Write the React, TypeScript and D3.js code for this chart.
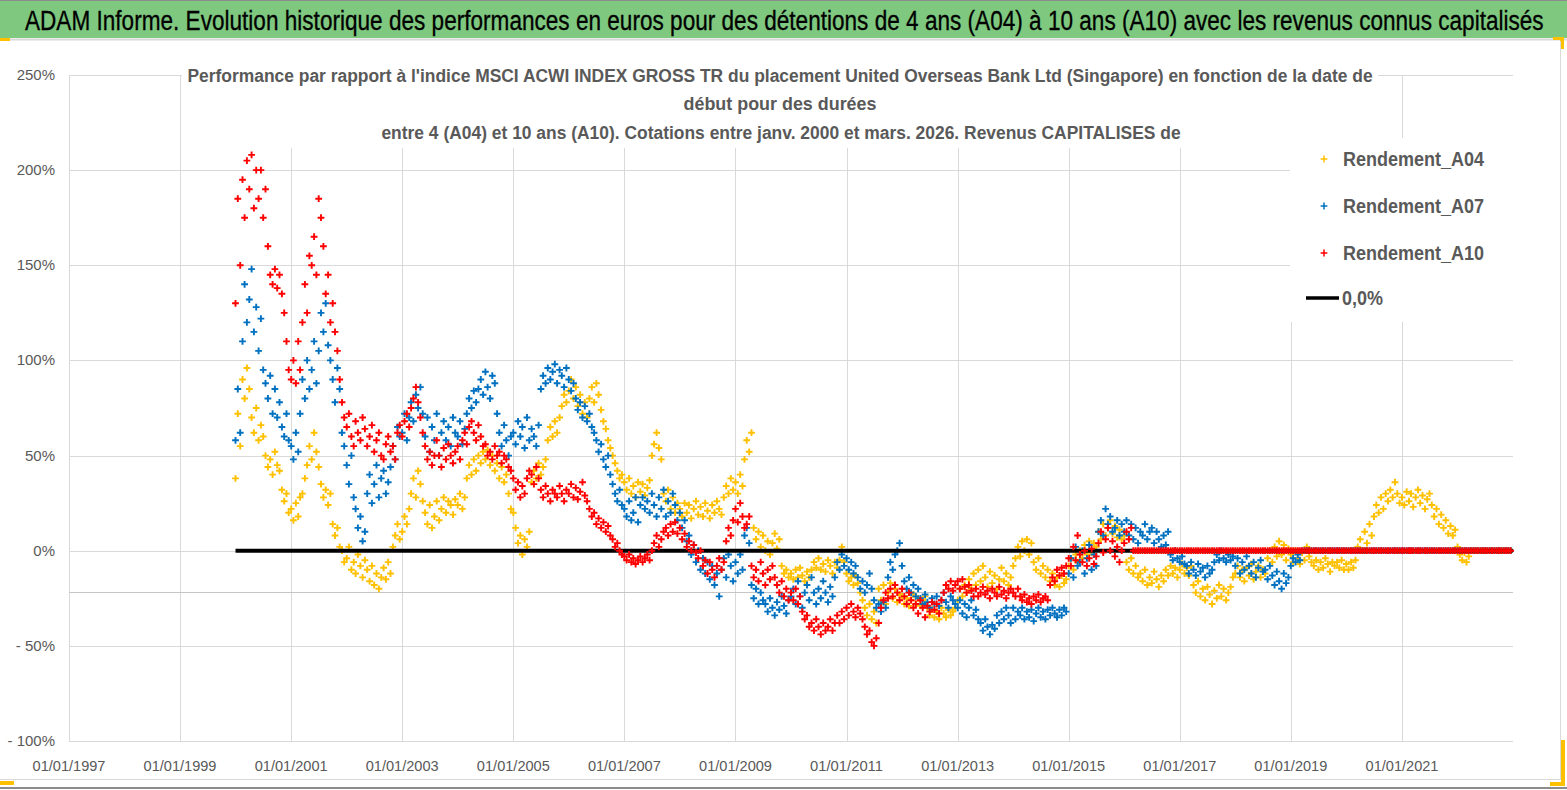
import React, { useMemo, useRef, useLayoutEffect, useState } from "react"
import * as d3 from "d3"

// half-monthly readings (1st and 16th of each month), one row per year from 2000
const A04: number[][] = [
  [38, 72, 55, 90, 80, 96, 85, 70, 62, 75, 58, 66, 60, 50, 44, 48, 40, 52, 45, 42, 32, 26, 30, 20],
  [22, 16, 25, 18, 28, 30, 38, 45, 55, 48, 62, 52, 44, 35, 28, 32, 24, 30, 14, 8, 12, 2, 0, -6],
  [-4, 2, -10, -6, -12, -2, -8, -14, -5, -10, -16, -8, -18, -12, -20, -14, -9, -15, -6, -12, 2, 8, 14, 6],
  [10, 18, 14, 22, 30, 38, 28, 42, 35, 26, 20, 14, 24, 12, 18, 26, 16, 22, 28, 20, 26, 24, 19, 27],
  [24, 30, 22, 28, 38, 45, 40, 48, 42, 50, 46, 52, 48, 53, 45, 50, 42, 46, 38, 44, 36, 40, 30, 22],
  [20, 12, 4, 8, -2, 6, 2, 10, 36, 42, 38, 46, 40, 44, 48, 58, 65, 60, 68, 62, 70, 76, 82, 78],
  [84, 90, 80, 86, 76, 82, 72, 78, 70, 80, 86, 78, 88, 82, 74, 68, 64, 58, 54, 50, 46, 42, 38, 40],
  [36, 32, 38, 30, 34, 28, 36, 31, 35, 29, 33, 37, 50, 56, 62, 54, 48, 30, 26, 32, 22, 28, 20, 25],
  [22, 18, 25, 20, 24, 17, 22, 26, 19, 23, 18, 25, 21, 17, 24, 20, 26, 22, 19, 28, 34, 30, 38, 32],
  [36, 30, 40, 34, 48, 58, 52, 62, 12, 6, 10, 2, 8, 0, 5, -2, 4, 9, 1, 6, -8, -12, -10, -14],
  [-12, -15, -10, -14, -9, -13, -16, -11, -14, -10, -6, -9, -4, -10, -7, -11, -5, -8, -12, -6, -9, -5, 2, -6],
  [-12, -16, -14, -18, -13, -17, -22, -26, -30, -34, -28, -36, -32, -38, -20, -26, -18, -28, -22, -17, -25, -20, -27, -23],
  [-24, -28, -25, -29, -26, -23, -28, -25, -29, -26, -24, -30, -34, -31, -35, -32, -36, -30, -33, -35, -31, -34, -32, -30],
  [-26, -20, -24, -18, -22, -15, -20, -12, -18, -10, -16, -8, -14, -19, -11, -17, -13, -20, -15, -9, -16, -12, -18, -14],
  [-8, -4, 2, -3, 5, 0, 6, -2, 4, -6, -10, -4, -12, -8, -14, -10, -16, -12, -18, -14, -19, -13, -17, -15],
  [-8, -4, -10, -2, -6, 0, -4, 3, -2, 5, -1, 4, 2, 10, 6, 14, 8, 12, 16, 9, 13, 7, 11, 6],
  [8, -6, -10, -4, -12, -8, -14, -12, -16, -10, -18, -14, -17, -11, -15, -19, -13, -16, -10, -13, -8, -12, -9, -14],
  [-10, -7, -12, -9, -13, -8, -18, -22, -16, -24, -20, -26, -19, -23, -28, -21, -25, -18, -24, -20, -26, -22, -19, -14],
  [-12, -8, -14, -10, -16, -9, -13, -7, -15, -11, -8, -14, -10, -12, -4, 0, -6, 2, -3, 5, -2, 3, -5, 1],
  [-2, -6, 0, -4, -7, -1, -5, 2, -3, -6, -8, -5, -10, -6, -9, -4, -7, -11, -6, -8, -6, -9, -5, -10],
  [-7, -10, -6, -9, -5, 2, 6, 0, 10, 4, 14, 8, 18, 24, 20, 28, 22, 30, 26, 32, 28, 36, 30, 25],
  [28, 24, 31, 26, 30, 23, 28, 32, 25, 29, 22, 27, 30, 24, 18, 22, 14, 19, 12, 16, 9, 13, 8, 11],
  [2, -2, -5, -1, -6, -3],
]

const A07: number[][] = [
  [58, 85, 62, 110, 140, 120, 132, 148, 115, 128, 105, 122, 95, 88, 80, 92, 72, 85, 70, 78, 65, 60, 72, 58],
  [55, 48, 62, 52, 72, 90, 80, 100, 85, 95, 110, 88, 105, 125, 115, 130, 108, 100, 90, 78, 96, 85, 62, 55],
  [45, 35, 50, 28, 22, 12, 18, 5, 10, 30, 40, 25, 35, 45, 28, 38, 42, 30, 36, 44, 55, 48, 65, 60],
  [62, 72, 58, 70, 78, 68, 82, 75, 86, 72, 60, 70, 52, 65, 58, 72, 50, 62, 68, 58, 65, 55, 70, 62],
  [60, 68, 56, 64, 72, 80, 75, 84, 78, 85, 90, 82, 94, 86, 80, 92, 88, 72, 62, 55, 66, 58, 50, 60],
  [62, 56, 68, 60, 65, 54, 70, 58, 64, 60, 55, 66, 85, 92, 88, 96, 90, 94, 98, 88, 95, 92, 86, 96],
  [90, 84, 88, 80, 74, 78, 70, 76, 68, 72, 65, 62, 58, 52, 56, 48, 44, 50, 40, 35, 30, 26, 32, 24],
  [22, 18, 26, 16, 20, 28, 15, 24, 28, 22, 26, 20, 30, 24, 18, 28, 22, 32, 18, 26, 20, 30, 24, 16],
  [20, 12, 16, 5, 8, -2, 3, -6, 0, -10, -4, -12, -6, -15, -8, -18, -12, -24, -10, -4, -14, -2, -8, -16],
  [-6, -12, -2, -10, 8, 12, 4, -18, -25, -20, -28, -22, -26, -28, -32, -25, -30, -34, -27, -31, -24, -29, -33, -26],
  [-24, -20, -28, -16, -24, -30, -22, -18, -26, -14, -22, -28, -20, -25, -16, -22, -27, -19, -24, -14, -6, -10, -2, -8],
  [-4, -10, -6, -12, -8, -14, -20, -16, -22, -18, -12, -20, -26, -30, -28, -32, -27, -30, -14, -6, -10, -2, 0, 4],
  [-8, -16, -20, -14, -22, -18, -24, -20, -25, -28, -23, -27, -30, -25, -28, -24, -29, -26, -22, -27, -30, -24, -26, -28],
  [-30, -26, -33, -28, -35, -30, -26, -34, -31, -36, -38, -42, -36, -40, -44, -39, -41, -34, -38, -32, -36, -30, -34, -38],
  [-30, -36, -32, -34, -30, -36, -32, -35, -31, -37, -33, -30, -35, -32, -36, -31, -34, -30, -33, -35, -31, -34, -30, -32],
  [-12, -4, -14, 2, -8, -6, 0, -12, -4, 3, -10, -2, -8, 10, 16, 8, 22, 14, 18, 10, 12, 16, 8, 14],
  [10, 16, 8, 14, 6, 12, 4, 10, 8, 14, 6, 10, 12, 4, 10, 6, 2, 8, 3, 10, -2, -5, 0, -4],
  [-6, -3, -7, -8, -12, -6, -10, -13, -7, -11, -9, -14, -8, -12, -10, -6, -2, -5, 0, -4, -6, -2, -5, -3],
  [-8, -4, -12, -6, -10, -3, -8, -12, -6, -14, -9, -5, -11, -10, -15, -8, -13, -18, -11, -16, -20, -12, -17, -14],
  [-8, -4, -6, -2, -5],
]

const A10: number[][] = [
  [130, 185, 150, 195, 175, 205, 190, 208, 180, 200, 185, 200, 175, 190, 160, 145, 140, 148, 138, 145, 135, 125, 110, 95],
  [90, 100, 88, 110, 95, 120, 140, 125, 155, 150, 165, 145, 185, 175, 160, 135, 145, 120, 130, 115, 105, 90, 78, 70],
  [65, 72, 60, 55, 68, 62, 58, 70, 64, 55, 60, 66, 52, 58, 62, 50, 48, 56, 60, 52, 55, 48, 62, 66],
  [60, 68, 72, 65, 75, 80, 86, 78, 70, 62, 55, 48, 52, 45, 50, 58, 50, 44, 54, 48, 56, 50, 46, 52],
  [55, 48, 58, 62, 56, 65, 68, 62, 58, 66, 60, 55, 56, 50, 52, 48, 55, 50, 52, 46, 50, 48, 44, 42],
  [38, 32, 36, 28, 34, 30, 38, 42, 40, 35, 44, 38, 32, 28, 34, 30, 26, 32, 30, 28, 34, 30, 26, 32],
  [30, 35, 28, 33, 27, 31, 36, 29, 26, 22, 18, 20, 14, 17, 12, 15, 10, 13, 8, 6, 2, 4, 0, -2],
  [-3, -5, -2, -6, -4, -7, -5, -3, -6, -4, -2, -5, 0, 4, 8, 2, 6, 10, 12, 8, 14, 10, 15, 9],
  [12, 6, 9, 2, 5, 0, 3, -1, -4, 0, -8, -5, -12, -6, -10, -14, -8, -4, -10, -6, 5, 12, 8, 16],
  [22, 15, 25, 18, 12, 14, 18, -8, -14, -10, -16, -6, -12, -18, -10, -15, -8, -14, -18, -22, -16, -24, -20, -26],
  [-22, -26, -20, -28, -24, -32, -36, -34, -40, -38, -42, -36, -40, -44, -38, -42, -40, -36, -42, -38, -34, -38, -32, -36],
  [-30, -34, -28, -32, -35, -30, -33, -36, -40, -44, -42, -48, -50, -46, -38, -30, -26, -22, -25, -20, -24, -18, -22, -26],
  [-20, -24, -28, -22, -26, -30, -28, -33, -26, -30, -35, -29, -32, -27, -31, -28, -33, -26, -22, -18, -20, -16, -21, -18],
  [-16, -20, -15, -19, -22, -18, -21, -24, -20, -24, -22, -19, -23, -21, -25, -20, -22, -24, -19, -23, -21, -25, -22, -20],
  [-22, -24, -20, -24, -26, -23, -27, -25, -28, -24, -26, -23, -27, -25, -24, -26, -18, -14, -16, -10, -13, -9, -12, -8],
  [-4, -8, 2, -5, 8, -2, -6, 0, -8, -4, 1, -7, -3, 4, 10, -1, 6, 12, 0, 5, -3, 2, -6, 0],
  [4, 10, 6, 12],
]

const FIRST_YEAR = 2000
const LAST_DATE = new Date(2022, 11, 31) // series are 0 after their last reading

const yTicks = [250, 200, 150, 100, 50, 0, -50, -100]
const yTickLabels = ["250%", "200%", "150%", "100%", "50%", "0%", "- 50%", "- 100%"]
const xTickYears = [1997, 1999, 2001, 2003, 2005, 2007, 2009, 2011, 2013, 2015, 2017, 2019, 2021]

const seriesNames = ["Rendement_A04", "Rendement_A07", "Rendement_A10"]
const seriesColors = ["#FFC000", "#0070C0", "#FF0000"]

const title = "ADAM Informe. Evolution historique des performances en euros pour des détentions de 4 ans (A04) à 10 ans (A10) avec les revenus connus capitalisés"
const subtitle = [
  "Performance par rapport à l'indice MSCI ACWI INDEX GROSS TR  du placement United Overseas Bank Ltd (Singapore) en fonction de la date de",
  "début pour des durées",
  "entre 4 (A04) et 10 ans (A10). Cotations entre janv. 2000 et mars. 2026. Revenus CAPITALISES de",
]

const W = 1567
const H = 790
const FONT = "'Liberation Sans Narrow','Liberation Sans',Arial,sans-serif"
const GREY = "#595959"

const halfMonth = (i: number) => new Date(FIRST_YEAR + Math.floor(i / 24), Math.floor((i % 24) / 2), i % 2 === 0 ? 1 : 16)

function toPoints(rows: number[][]) {
  const flat = rows.flat()
  const pts: { d: Date; v: number }[] = flat.map((v, i) => ({ d: halfMonth(i), v }))
  let i = flat.length
  while (halfMonth(i) <= LAST_DATE) {
    pts.push({ d: halfMonth(i), v: 0 })
    i++
  }
  return pts
}

const PLUS = "M-3.4,0H3.4M0,-3.4V3.4"

// text squeezed horizontally to a given width (the original uses a narrow font)
const FitText: React.FC<{ x: number; y: number; width: number; anchor?: "start" | "middle"; children: string } & React.SVGProps<SVGTextElement>> = ({ x, y, width, anchor = "start", children, ...rest }) => {
  const ref = useRef<SVGTextElement>(null)
  const [sx, setSx] = useState(1)
  useLayoutEffect(() => {
    if (ref.current) {
      const w = ref.current.getComputedTextLength()
      if (w > 0) setSx(width / w)
    }
  }, [width, children])
  return (
    <text ref={ref} transform={`translate(${x},${y}) scale(${sx},1)`} textAnchor={anchor} {...rest}>
      {children}
    </text>
  )
}

const App: React.FC = () => {
  const x = d3.scaleTime().domain([new Date(1997, 0, 1), new Date(2023, 0, 1)]).range([69, 1513])
  const y = d3.scaleLinear().domain([-100, 250]).range([741, 75])

  const series = useMemo(() => [A04, A07, A10].map(toPoints), [])
  const zeroLine = d3.line<Date>().x(d => x(d)).y(() => y(0))([new Date(FIRST_YEAR, 0, 1), LAST_DATE])

  const drawSeries = (k: number) => (
    <g key={k} stroke={seriesColors[k]} strokeWidth={1.9} fill="none">
      {series[k].map((p, i) => (
        <path key={i} d={PLUS} transform={`translate(${x(p.d).toFixed(1)},${y(p.v).toFixed(1)})`} />
      ))}
    </g>
  )

  return (
    <svg width={W} height={H} style={{ position: "absolute", left: 0, top: 0, background: "#fff" }} fontFamily={FONT}>
      {/* header */}
      <rect x={0} y={0} width={W} height={38} fill="#7EC87F" />
      <line x1={0} x2={W} y1={0.5} y2={0.5} stroke="#8c8c8c" />
      <line x1={0} x2={W} y1={39.5} y2={39.5} stroke="#d9d9d9" strokeWidth={2} />
      <FitText x={25} y={30} width={1520} fontSize={27} fill="#000" stroke="#000" strokeWidth={0.3}>{title}</FitText>
      <rect x={0} y={38} width={10} height={3} fill="#FFC000" />
      <rect x={1553} y={37} width={10} height={3} fill="#FFC000" />
      <rect x={1560} y={37} width={4} height={12} fill="#FFC000" />

      {/* grid */}
      <g stroke="#d9d9d9" strokeWidth={1}>
        {yTicks.map(t => (
          <line key={t} x1={69} x2={1513} y1={Math.round(y(t)) + 0.5} y2={Math.round(y(t)) + 0.5} />
        ))}
        {xTickYears.map(yr => (
          <line key={yr} x1={Math.round(x(new Date(yr, 0, 1))) + 0.5} x2={Math.round(x(new Date(yr, 0, 1))) + 0.5} y1={75} y2={741} />
        ))}
      </g>
      <line x1={69} x2={1513} y1={592.5} y2={592.5} stroke="#c6c6c6" />

      {/* axis labels */}
      <g fontSize={15} fill={GREY}>
        {yTicks.map((t, i) => (
          <text key={t} x={55} y={y(t) + 5} textAnchor="end">{yTickLabels[i]}</text>
        ))}
        {xTickYears.map(yr => (
          <FitText key={yr} x={x(new Date(yr, 0, 1))} y={771} width={73} anchor="middle">
            {`01/01/${yr}`}
          </FitText>
        ))}
      </g>

      {/* data */}
      {drawSeries(0)}
      {drawSeries(1)}
      <path d={zeroLine ?? ""} stroke="#000" strokeWidth={4} fill="none" />
      {drawSeries(2)}

      {/* subtitle */}
      <rect x={182} y={60} width={1196} height={88} fill="#fff" />
      <g fontSize={19} fontWeight="bold" fill={GREY}>
        <FitText x={780} y={82} width={1186} anchor="middle">{subtitle[0]}</FitText>
        <FitText x={780} y={110} width={193} anchor="middle">{subtitle[1]}</FitText>
        <FitText x={781} y={139} width={800} anchor="middle">{subtitle[2]}</FitText>
      </g>

      {/* legend */}
      <rect x={1290} y={138} width={224} height={184} fill="#fff" />
      <g fontSize={20} fontWeight="bold" fill={GREY}>
        {seriesNames.map((n, i) => (
          <g key={n}>
            <path d={PLUS} transform={`translate(1324,${159 + i * 47})`} stroke={seriesColors[i]} strokeWidth={1.5} fill="none" />
            <FitText x={1343} y={166 + i * 47} width={141}>{n}</FitText>
          </g>
        ))}
        <line x1={1306} x2={1339} y1={298} y2={298} stroke="#000" strokeWidth={3.5} />
        <FitText x={1342} y={305} width={41}>0,0%</FitText>
      </g>

      {/* frame */}
      <line x1={1560.5} x2={1560.5} y1={41} y2={780} stroke="#d9d9d9" />
      <line x1={0} x2={1560} y1={779.5} y2={779.5} stroke="#d9d9d9" />
      <line x1={0} x2={W} y1={788} y2={788} stroke="#8c8c8c" strokeWidth={2} />
      <rect x={0} y={781} width={14} height={4} fill="#FFC000" />
      <rect x={1561} y={740} width={4} height={46} fill="#FFC000" />
      <rect x={1550} y={782} width={15} height={4} fill="#FFC000" />
    </svg>
  )
}

export default App
